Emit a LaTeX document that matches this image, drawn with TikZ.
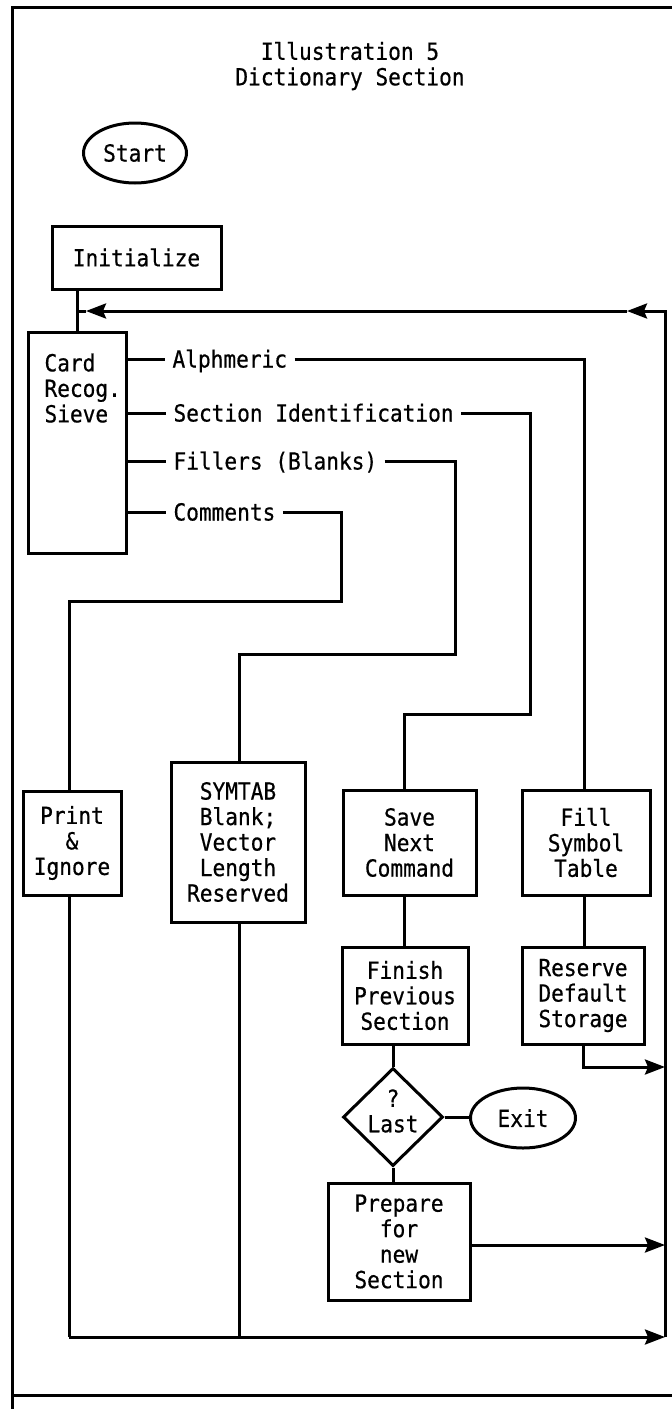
\documentclass[tikz,border=0pt]{standalone}
\usepackage{fontspec}
\setmonofont{DejaVu Sans Mono}[FakeStretch=0.9, FakeBold=0.6]
\usetikzlibrary{shapes.geometric, arrows.meta}
\begin{document}
\begin{tikzpicture}[x=1pt, y=-1pt,
  font=\ttfamily\fontsize{23.5}{25.5}\selectfont,
  line width=3pt,
  box/.style={draw, rectangle, inner sep=0pt, align=center},
  oval/.style={draw, ellipse, inner sep=0pt},
  lbl/.style={inner xsep=6pt, inner ysep=0pt, text height=17pt, text depth=0pt, anchor=west},
  arr/.style={-{Stealth[length=20pt,width=15pt,inset=3pt]}},
]
\useasboundingbox (0,0) rectangle (672,1409);
% frame
\draw (12,1409) -- (12,7) -- (672,7);
\draw (12,1395) -- (672,1395);

% title
\node[align=center, inner sep=0pt] (title) at (350,66) {Illustration 5\\Dictionary Section};

% nodes
\node[oval, minimum width=103pt, minimum height=60pt] (start) at (135,153) {Start};
\node[box, minimum width=169pt, minimum height=63pt] (init) at (136.5,257.5) {Initialize};
\node[box, minimum width=98pt, minimum height=221pt] (card) at (77,442.5) {};
\node[anchor=north west, inner sep=0pt, align=left] (cardtxt) at (43,352) {Card\\Recog.\\Sieve};

\node[box, minimum width=98pt, minimum height=104pt] (print) at (72,843) {Print\\\&\\Ignore};
\node[box, minimum width=134pt, minimum height=160pt] (symtab) at (238,842) {SYMTAB\\Blank;\\Vector\\Length\\Reserved};
\node[box, minimum width=133pt, minimum height=105pt] (save) at (409.5,842.5) {Save\\Next\\Command};
\node[box, minimum width=128pt, minimum height=105pt] (fill) at (586,842.5) {Fill\\Symbol\\Table};
\node[box, minimum width=126pt, minimum height=97pt] (finish) at (405,995.5) {Finish\\Previous\\Section};
\node[box, minimum width=122pt, minimum height=97pt] (reserve) at (583,995.5) {Reserve\\Default\\Storage};
\node[draw, diamond, minimum width=100pt, minimum height=98pt, inner sep=0pt] (last) at (393,1117) {};
\node[align=center, inner sep=0pt] (lasttxt) at (393,1111) {?\\Last};
\node[oval, minimum width=105pt, minimum height=60pt] (exit) at (523,1118) {Exit};
\node[box, minimum width=142pt, minimum height=117pt] (prep) at (399,1241.5) {Prepare\\for\\new\\Section};

% branch labels
\node[lbl] (alph) at (165,359) {Alphmeric};
\node[lbl] (secid) at (166,413) {Section Identification};
\node[lbl] (fillers) at (166,461) {Fillers (Blanks)};
\node[lbl] (comm) at (166,512) {Comments};

% coordinates
\coordinate (rtop) at (665,311);
\coordinate (rbot) at (665,1337);
\coordinate (fbmid) at (627,311);
\coordinate (a1) at (584,359);
\coordinate (s1) at (530,413);
\coordinate (s2) at (530,714);
\coordinate (s3) at (404,714);
\coordinate (f1) at (455,461);
\coordinate (f2) at (455,654);
\coordinate (f3) at (239,654);
\coordinate (c1) at (341,512);
\coordinate (c2) at (341,601);
\coordinate (c3) at (69,601);
\coordinate (pb) at (69,1337);
\coordinate (r1) at (583,1067);
\coordinate (p1) at (0,1245);
\coordinate (fbend) at (86,311);

% connectors
\draw (init.south -| card.north) -- (card.north);
\draw[arr] (rbot) -- (rtop) -- (fbmid);
\draw[arr] (fbmid) -- (fbend);
\draw (fbend) -- (card.north |- rtop);

\draw (card.east |- alph) -- (alph.west);
\draw (alph.east) -- (a1) -- (a1 |- fill.north);
\draw (card.east |- secid) -- (secid.west);
\draw (secid.east) -- (s1) -- (s2) -- (s3) -- (s3 |- save.north);
\draw (card.east |- fillers) -- (fillers.west);
\draw (fillers.east) -- (f1) -- (f2) -- (f3) -- (f3 |- symtab.north);
\draw (card.east |- comm) -- (comm.west);
\draw (comm.east) -- (c1) -- (c2) -- (c3) -- (c3 |- print.north);

\draw (c3 |- print.south) -- (pb);
\draw[arr] (pb) -- (rbot);
\draw (f3 |- symtab.south) -- (f3 |- pb);

\draw (s3 |- save.south) -- (s3 |- finish.north);
\draw (a1 |- fill.south) -- (a1 |- reserve.north);
\draw[arr] (reserve.south -| r1) -- (r1) -- (r1 -| rtop);

\draw (finish.south -| last.north) -- (last.north);
\draw (last.east) -- (last.east -| exit.west);
\draw (last.south) -- (last.south |- prep.north);
\draw[arr] (prep.east |- p1) -- (rtop |- p1);
\end{tikzpicture}
\end{document}
